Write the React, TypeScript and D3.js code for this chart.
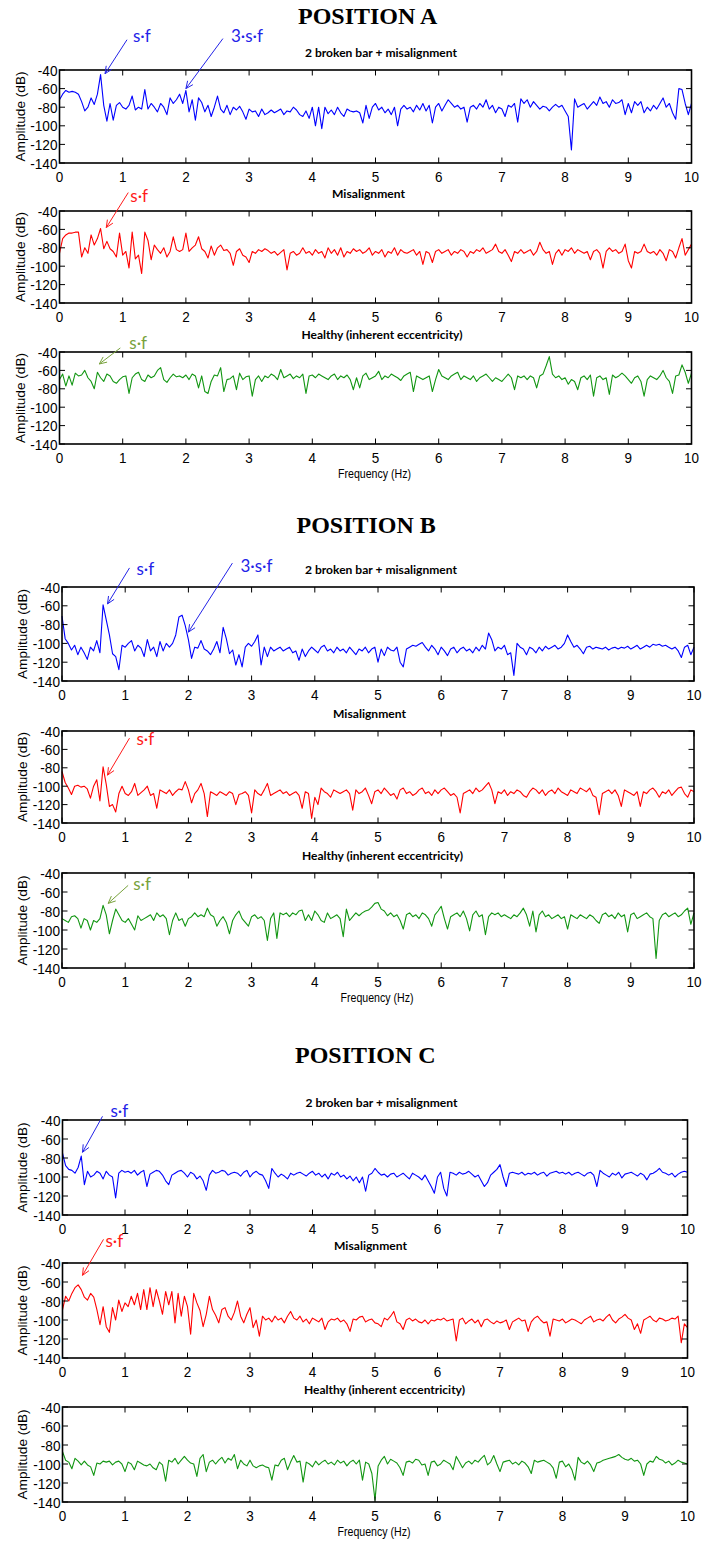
import React from 'react';
import * as d3 from 'd3';

// axes
const freqTicks = [0, 1, 2, 3, 4, 5, 6, 7, 8, 9, 10];
const ampTicks = [-40, -60, -80, -100, -120, -140];

const positionNames = ['POSITION A', 'POSITION B', 'POSITION C'];
const conditionNames = ['2 broken bar + misalignment', 'Misalignment', 'Healthy (inherent eccentricity)'];
const conditionColors = ['#0000ff', '#ff0000', '#129612'];

// amplitude spectra (dB), one value every 0.05 Hz from 0 to 10 Hz
const posABroken = [
  -72, -66, -62, -64, -63, -64, -66, -74, -84, -80,
  -70, -77, -66, -45, -78, -95, -76, -94, -78, -75,
  -80, -82, -78, -68, -83, -80, -82, -61, -82, -76,
  -80, -85, -76, -80, -88, -70, -76, -72, -66, -76,
  -62, -85, -72, -94, -70, -75, -85, -78, -90, -80,
  -68, -82, -86, -78, -88, -80, -83, -79, -85, -93,
  -82, -85, -84, -90, -82, -88, -86, -83, -86, -84,
  -82, -88, -84, -85, -80, -83, -88, -90, -84, -92,
  -80, -100, -80, -103, -80, -87, -83, -88, -80, -86,
  -90, -82, -84, -85, -84, -86, -97, -78, -92, -80,
  -76, -83, -80, -86, -82, -88, -80, -100, -82, -78,
  -82, -80, -85, -78, -83, -76, -84, -78, -97, -80,
  -76, -84, -78, -72, -76, -80, -78, -82, -80, -96,
  -80, -78, -82, -76, -80, -72, -82, -78, -86, -80,
  -82, -90, -78, -80, -76, -96, -71, -76, -72, -80,
  -74, -78, -82, -79, -80, -84, -80, -77, -80, -78,
  -84, -90, -126, -71, -80, -78, -76, -82, -78, -74,
  -78, -69, -76, -74, -80, -72, -76, -75, -72, -88,
  -76, -86, -74, -78, -74, -86, -80, -84, -78, -82,
  -76, -70, -80, -76, -86, -93, -60, -61, -76, -88,
  -76,
];
const posAMisalign = [
  -86, -70, -66, -64, -64, -63, -63, -90, -80, -86,
  -66, -77, -70, -59, -81, -73, -81, -84, -90, -64,
  -88, -84, -102, -63, -92, -88, -108, -63, -72, -93,
  -77, -82, -86, -80, -90, -84, -68, -82, -84, -82,
  -64, -84, -80, -77, -68, -81, -84, -91, -78, -88,
  -80, -77, -83, -82, -86, -99, -84, -81, -88, -90,
  -96, -84, -86, -82, -84, -81, -83, -86, -84, -88,
  -85, -82, -104, -86, -84, -88, -86, -80, -86, -84,
  -88, -82, -86, -84, -91, -80, -86, -82, -88, -80,
  -90, -84, -86, -81, -84, -82, -86, -84, -80, -88,
  -84, -86, -82, -90, -84, -86, -80, -88, -82, -85,
  -86, -84, -82, -88, -84, -98, -84, -86, -96, -84,
  -82, -86, -84, -82, -88, -84, -86, -82, -84, -90,
  -84, -86, -82, -84, -80, -86, -84, -82, -76, -84,
  -86, -82, -88, -95, -84, -86, -82, -86, -84, -82,
  -88, -84, -74, -82, -86, -84, -98, -86, -82, -88,
  -82, -84, -80, -86, -82, -84, -86, -84, -93, -84,
  -82, -86, -102, -84, -80, -84, -82, -86, -84, -76,
  -94, -102, -84, -86, -84, -76, -84, -86, -84, -88,
  -82, -86, -94, -82, -84, -91, -80, -70, -88, -82,
  -76,
];
const posAHealthy = [
  -70, -64, -77, -66, -76, -63, -66, -65, -60, -68,
  -72, -80, -62, -68, -72, -64, -66, -72, -74, -70,
  -67, -66, -85, -68, -64, -62, -70, -72, -65, -68,
  -66, -60, -57, -70, -73, -68, -64, -67, -66, -68,
  -65, -70, -64, -66, -79, -66, -83, -85, -72, -65,
  -66, -57, -83, -70, -69, -66, -81, -63, -70, -67,
  -66, -88, -70, -66, -72, -66, -68, -64, -66, -70,
  -59, -68, -66, -64, -69, -66, -68, -64, -85, -66,
  -65, -68, -64, -66, -68, -70, -66, -64, -70, -66,
  -68, -65, -70, -81, -68, -79, -66, -63, -70, -68,
  -66, -61, -70, -66, -68, -64, -66, -68, -71, -66,
  -64, -62, -83, -66, -68, -70, -68, -66, -83, -70,
  -59, -66, -68, -70, -66, -64, -62, -70, -66, -68,
  -70, -66, -72, -68, -66, -64, -68, -72, -68, -70,
  -72, -68, -64, -68, -81, -66, -68, -66, -70, -66,
  -68, -79, -66, -64, -55, -45, -64, -68, -66, -70,
  -68, -75, -70, -72, -81, -68, -66, -70, -65, -88,
  -68, -66, -70, -68, -86, -65, -68, -66, -63, -66,
  -70, -74, -68, -66, -72, -88, -70, -66, -68, -70,
  -66, -60, -68, -72, -85, -66, -65, -54, -62, -74,
  -63,
];
const posBBroken = [
  -71, -95, -100, -107, -102, -112, -104, -110, -117, -104,
  -108, -97, -110, -59, -75, -91, -111, -114, -128, -102,
  -104, -100, -97, -108, -102, -105, -114, -96, -108, -104,
  -114, -98, -108, -100, -104, -100, -91, -72, -70, -81,
  -96, -116, -104, -105, -97, -106, -108, -112, -106, -98,
  -110, -83, -95, -111, -107, -123, -112, -125, -104, -100,
  -103, -98, -91, -123, -104, -114, -104, -108, -106, -104,
  -108, -106, -104, -110, -108, -118, -106, -114, -108, -104,
  -107, -110, -104, -102, -108, -106, -110, -104, -108, -106,
  -110, -104, -108, -112, -106, -108, -104, -110, -106, -104,
  -120, -106, -113, -104, -107, -108, -104, -120, -125, -106,
  -104, -102, -103, -101, -99, -104, -108, -102, -106, -112,
  -104, -108, -113, -106, -104, -110, -106, -104, -108, -106,
  -110, -104, -108, -102, -106, -89, -96, -108, -104, -106,
  -102, -112, -110, -134, -100, -104, -106, -112, -104, -106,
  -110, -104, -108, -103, -106, -104, -102, -106, -104, -100,
  -91, -98, -104, -102, -106, -111, -104, -103, -106, -104,
  -105, -106, -104, -107, -105, -104, -106, -104, -105, -103,
  -106, -104, -102, -106, -104, -102, -104, -101, -102, -101,
  -103, -102, -104, -106, -104, -108, -115, -104, -102, -112,
  -104,
];
const posBMisalign = [
  -84, -96, -102, -109, -100, -99, -101, -100, -103, -113,
  -100, -93, -116, -79, -98, -122, -120, -128, -108, -100,
  -108, -110, -106, -97, -110, -107, -104, -100, -110, -108,
  -124, -104, -106, -108, -104, -110, -106, -103, -104, -95,
  -104, -118, -108, -104, -97, -108, -133, -106, -108, -110,
  -106, -108, -110, -106, -108, -120, -109, -108, -106, -110,
  -129, -104, -108, -110, -104, -97, -110, -108, -106, -104,
  -108, -106, -110, -108, -106, -110, -124, -106, -108, -135,
  -112, -120, -102, -106, -108, -112, -104, -106, -108, -106,
  -104, -108, -126, -104, -108, -106, -102, -110, -119, -106,
  -104, -108, -102, -106, -110, -108, -114, -104, -102, -108,
  -106, -110, -108, -104, -102, -108, -106, -110, -104, -108,
  -104, -102, -106, -110, -108, -112, -129, -108, -106, -104,
  -108, -102, -106, -104, -100, -96, -104, -119, -106, -108,
  -104, -110, -106, -108, -104, -106, -110, -112, -106, -102,
  -104, -108, -104, -110, -106, -104, -108, -102, -106, -108,
  -110, -104, -106, -108, -102, -104, -106, -102, -110, -112,
  -131, -108, -106, -104, -108, -104, -110, -122, -104, -106,
  -108, -110, -106, -122, -106, -108, -104, -102, -106, -112,
  -106, -108, -104, -110, -106, -102, -101, -108, -112, -104,
  -106,
];
const posBHealthy = [
  -88, -90, -92, -86, -85, -88, -98, -88, -90, -100,
  -90, -92, -88, -74, -84, -104, -90, -78, -84, -90,
  -92, -88, -94, -100, -85, -90, -88, -86, -84, -90,
  -82, -86, -84, -88, -105, -90, -82, -90, -88, -96,
  -88, -86, -82, -86, -84, -86, -77, -84, -86, -96,
  -90, -86, -92, -104, -90, -84, -80, -88, -92, -96,
  -86, -84, -88, -86, -90, -111, -88, -82, -109, -82,
  -84, -82, -86, -82, -84, -80, -79, -90, -84, -90,
  -80, -84, -90, -92, -82, -88, -86, -84, -88, -107,
  -78, -90, -86, -82, -85, -82, -80, -79, -76, -72,
  -71, -78, -80, -85, -82, -86, -84, -90, -99, -84,
  -82, -86, -84, -88, -82, -84, -88, -96, -84, -80,
  -75, -88, -99, -86, -84, -82, -86, -80, -88, -101,
  -84, -80, -86, -84, -105, -86, -82, -84, -82, -86,
  -84, -86, -88, -84, -86, -82, -77, -84, -96, -80,
  -102, -84, -80, -86, -84, -88, -86, -84, -88, -86,
  -99, -84, -86, -88, -84, -86, -88, -84, -86, -90,
  -93, -84, -82, -86, -84, -88, -82, -86, -84, -102,
  -84, -82, -88, -86, -84, -82, -86, -88, -130, -90,
  -84, -82, -86, -84, -82, -86, -84, -80, -77, -94,
  -82,
];
const posCBroken = [
  -75, -88, -92, -93, -96, -90, -78, -108, -94, -100,
  -98, -94, -96, -102, -94, -98, -100, -122, -96, -93,
  -95, -94, -96, -93, -98, -95, -93, -110, -97, -95,
  -93, -94, -98, -104, -108, -98, -96, -94, -93, -96,
  -100, -95, -97, -102, -99, -104, -114, -98, -93, -96,
  -95, -93, -94, -98, -96, -95, -96, -99, -95, -93,
  -100, -96, -94, -97, -98, -104, -112, -91, -96, -100,
  -97, -99, -102, -96, -98, -96, -95, -97, -99, -96,
  -94, -98, -96, -100, -97, -102, -96, -98, -95, -100,
  -98, -102, -99, -104, -100, -106, -100, -115, -98, -96,
  -91, -95, -98, -97, -100, -97, -96, -100, -98, -96,
  -99, -102, -96, -98, -100, -103, -98, -104, -110, -117,
  -100, -95, -112, -120, -95, -96, -98, -95, -97, -96,
  -94, -97, -100, -98, -104, -110, -106, -98, -95, -92,
  -87, -100, -110, -96, -95, -96, -97, -95, -98, -96,
  -97, -95, -98, -96, -95, -99, -96, -95, -94, -96,
  -95, -97, -95, -98, -96, -95, -97, -99, -96, -95,
  -98, -110, -93, -96, -98, -100, -96, -98, -95, -101,
  -97, -96, -95, -97, -99, -96, -98, -103, -97, -96,
  -94, -91, -95, -96, -98, -96, -100, -97, -95, -94,
  -95,
];
const posCMisalign = [
  -89, -75, -80, -72, -66, -63, -68, -76, -79, -72,
  -76, -89, -105, -86, -107, -113, -87, -100, -79, -91,
  -82, -86, -75, -84, -72, -89, -68, -89, -66, -86,
  -68, -80, -94, -70, -84, -70, -103, -72, -96, -75,
  -86, -115, -72, -82, -90, -107, -94, -75, -89, -95,
  -103, -89, -87, -96, -100, -92, -80, -96, -103, -94,
  -87, -108, -100, -117, -96, -100, -98, -102, -96, -100,
  -98, -103, -96, -91, -98, -100, -96, -102, -99, -104,
  -98, -100, -102, -98, -110, -102, -99, -100, -98, -102,
  -100, -104, -112, -99, -100, -97, -96, -102, -100, -99,
  -103, -104, -107, -98, -100, -96, -91, -102, -104, -110,
  -100, -98, -101, -99, -102, -103, -100, -104, -100, -101,
  -99, -100, -98, -101, -100, -99, -122, -100, -98, -104,
  -101, -99, -103, -100, -107, -100, -99, -102, -104, -101,
  -103, -102, -100, -110, -102, -100, -98, -101, -100, -112,
  -102, -98, -96, -100, -103, -102, -117, -99, -100, -101,
  -99, -103, -101, -99, -100, -102, -104, -100, -98, -96,
  -102, -100, -99, -101, -97, -94, -100, -103, -99, -97,
  -94, -98, -100, -110, -104, -114, -100, -98, -96, -100,
  -102, -98, -99, -101, -100, -98, -99, -96, -124, -104,
  -108,
];
const posCHealthy = [
  -87, -96, -98, -105, -94, -97, -101, -97, -101, -103,
  -112, -99, -100, -97, -98, -97, -101, -98, -97, -100,
  -108, -98, -100, -106, -97, -99, -101, -102, -100, -104,
  -106, -98, -101, -118, -96, -98, -94, -100, -96, -92,
  -96, -99, -100, -113, -94, -90, -108, -98, -96, -100,
  -96, -93, -99, -94, -96, -90, -105, -96, -100, -102,
  -96, -102, -104, -102, -101, -103, -104, -117, -101, -102,
  -96, -94, -106, -98, -91, -98, -97, -119, -98, -100,
  -103, -97, -101, -98, -96, -100, -98, -101, -96, -99,
  -97, -102, -98, -96, -100, -96, -117, -98, -100, -110,
  -138, -102, -96, -92, -100, -95, -97, -99, -104, -112,
  -98, -97, -99, -95, -96, -101, -100, -112, -98, -97,
  -102, -100, -96, -98, -100, -106, -92, -98, -104, -99,
  -97, -100, -96, -98, -94, -91, -101, -98, -91, -100,
  -108, -98, -97, -96, -100, -98, -101, -97, -99, -103,
  -110, -96, -98, -97, -96, -98, -100, -104, -115, -98,
  -97, -103, -100, -106, -117, -93, -98, -100, -97, -101,
  -108, -99, -98, -96, -95, -94, -93, -92, -90, -93,
  -95, -96, -94, -97, -96, -100, -112, -100, -97, -98,
  -92, -95, -96, -99, -97, -101, -99, -96, -98, -99,
  -100,
];

const spectra = [
  [posABroken, posAMisalign, posAHealthy],
  [posBBroken, posBMisalign, posBHealthy],
  [posCBroken, posCMisalign, posCHealthy],
];

// s·f markers: position, panel, label, point (Hz, dB) the arrow points at
const markerPos = [0, 0, 0, 0, 1, 1, 1, 1, 2, 2];
const markerPanel = [0, 0, 1, 2, 0, 0, 1, 2, 0, 1];
const markerLabel = ['s·f', '3·s·f', 's·f', 's·f', 's·f', '3·s·f', 's·f', 's·f', 's·f', 's·f'];
const markerHz = [0.72, 2.0, 0.74, 0.63, 0.72, 2.0, 0.72, 0.73, 0.32, 0.32];
const markerDb = [-44, -60, -58, -53, -58, -88, -88, -72, -74, -53];
const markerColors = ['#2323e8', '#ff1a1a', '#78a23c'];

// page layout (pixels)
const blocks = [
  { left: 59.5, right: 691.5, titleX: 298, titleY: 23.5, ylabX: 24.5, axes: [[70, 163], [211, 303], [352, 444]] },
  { left: 62, right: 694, titleX: 296.5, titleY: 533, ylabX: 27, axes: [[587, 681], [731, 823], [873, 968]] },
  { left: 62.5, right: 687.5, titleX: 295, titleY: 1063, ylabX: 26.5, axes: [[1120, 1215], [1263, 1358], [1407, 1502]] },
];
const subtitleX = [[381, 368.5, 382], [381, 369.5, 382.5], [381.5, 370.5, 384.5]];
const subtitleW = [152, 73, 161];
// tail / text offsets of each marker arrow from its tip
const markerTail = [[22, -34], [37, -50], [22, -35], [21, -16], [22, -36], [44, -69], [22, -37], [20, -18], [20, -36], [21, -36]];
const markerText = [[28, -32], [45, -47], [24, -26], [30, -15], [29, -29], [52, -60], [29, -30], [25, -13], [28, -35], [23, -28]];

const tickFont = { fontFamily: 'Liberation Sans, Arial, sans-serif', fontSize: 15.5 };

function Panel({ values, color, left, right, top, bottom, title, titleX, titleW, ylabX, showFreq }) {
  const x = d3.scaleLinear().domain([0, 10]).range([left, right]);
  const y = d3.scaleLinear().domain([-140, -40]).range([bottom, top]);
  const line = d3
    .line<number>()
    .x((_, i) => x((i * 10) / (values.length - 1)))
    .y((d) => y(d));
  const tk = 5.5;
  return (
    <g>
      <text x={titleX} y={top - 13.5} textAnchor="middle" fontFamily="Lato, sans-serif" fontWeight="bold"
        fontSize={11.5} textLength={titleW} lengthAdjust="spacingAndGlyphs">{title}</text>
      <path d={line(values) || ''} fill="none" stroke={color} strokeWidth={1.1} strokeLinejoin="round" />
      {freqTicks.map((t) => (
        <g key={'x' + t}>
          <line x1={x(t)} x2={x(t)} y1={top} y2={top + tk} stroke="#000" strokeWidth={1} />
          <line x1={x(t)} x2={x(t)} y1={bottom} y2={bottom - tk} stroke="#000" strokeWidth={1} />
          <text transform={`translate(${x(t)},${bottom + 19}) scale(0.87,1)`} textAnchor="middle" {...tickFont}>{t}</text>
        </g>
      ))}
      {ampTicks.map((t) => (
        <g key={'y' + t}>
          <line x1={left} x2={left + tk} y1={y(t)} y2={y(t)} stroke="#000" strokeWidth={1} />
          <line x1={right} x2={right - tk} y1={y(t)} y2={y(t)} stroke="#000" strokeWidth={1} />
          <text transform={`translate(${left - 2},${y(t) + 5.5}) scale(0.88,1)`} textAnchor="end" {...tickFont}>{t}</text>
        </g>
      ))}
      <rect x={left} y={top} width={right - left} height={bottom - top} fill="none" stroke="#000" strokeWidth={1.6} />
      <text transform={`translate(${ylabX},${(top + bottom) / 2}) rotate(-90)`} textAnchor="middle"
        fontFamily="Liberation Sans, Arial, sans-serif" fontSize={13} textLength={90} lengthAdjust="spacingAndGlyphs">
        Amplitude (dB)
      </text>
      {showFreq && (
        <text x={(left + right) / 2 - 1} y={bottom + 33.5} textAnchor="middle" fontFamily="Liberation Sans, Arial, sans-serif"
          fontSize={12.5} textLength={73} lengthAdjust="spacingAndGlyphs">Frequency (Hz)</text>
      )}
    </g>
  );
}

function Marker({ i }) {
  const b = blocks[markerPos[i]];
  const [top, bottom] = b.axes[markerPanel[i]];
  const x = d3.scaleLinear().domain([0, 10]).range([b.left, b.right]);
  const y = d3.scaleLinear().domain([-140, -40]).range([bottom, top]);
  const tipX = x(markerHz[i]);
  const tipY = y(markerDb[i]);
  const tailX = tipX + markerTail[i][0];
  const tailY = tipY + markerTail[i][1];
  const ang = Math.atan2(tipY - tailY, tipX - tailX);
  const head = 8;
  const spread = 0.42;
  const color = markerColors[markerPanel[i]];
  return (
    <g stroke={color} strokeWidth={1} fill="none">
      <line x1={tailX} y1={tailY} x2={tipX} y2={tipY} />
      <polyline
        points={`${tipX - head * Math.cos(ang - spread)},${tipY - head * Math.sin(ang - spread)} ${tipX},${tipY} ${tipX - head * Math.cos(ang + spread)},${tipY - head * Math.sin(ang + spread)}`}
      />
      <text x={tipX + markerText[i][0]} y={tipY + markerText[i][1]} fill={color} stroke="none"
        fontFamily="Lato, sans-serif" fontSize={17}>{markerLabel[i]}</text>
    </g>
  );
}

export default function App() {
  return (
    <svg width={722} height={1542} style={{ position: 'absolute', left: 0, top: 0, background: '#fff' }}>
      <rect width={722} height={1542} fill="#fff" />
      {blocks.map((b, p) => (
        <g key={p}>
          <text x={b.titleX} y={b.titleY} fontFamily="Liberation Serif, Times New Roman, serif" fontWeight="bold" fontSize={24}>
            {positionNames[p]}
          </text>
          {b.axes.map(([top, bottom], k) => (
            <Panel key={k} values={spectra[p][k]} color={conditionColors[k]} left={b.left} right={b.right}
              top={top} bottom={bottom} title={conditionNames[k]} titleX={subtitleX[p][k]} titleW={subtitleW[k]}
              ylabX={b.ylabX} showFreq={k === 2} />
          ))}
        </g>
      ))}
      {markerLabel.map((_, i) => <Marker key={i} i={i} />)}
    </svg>
  );
}
